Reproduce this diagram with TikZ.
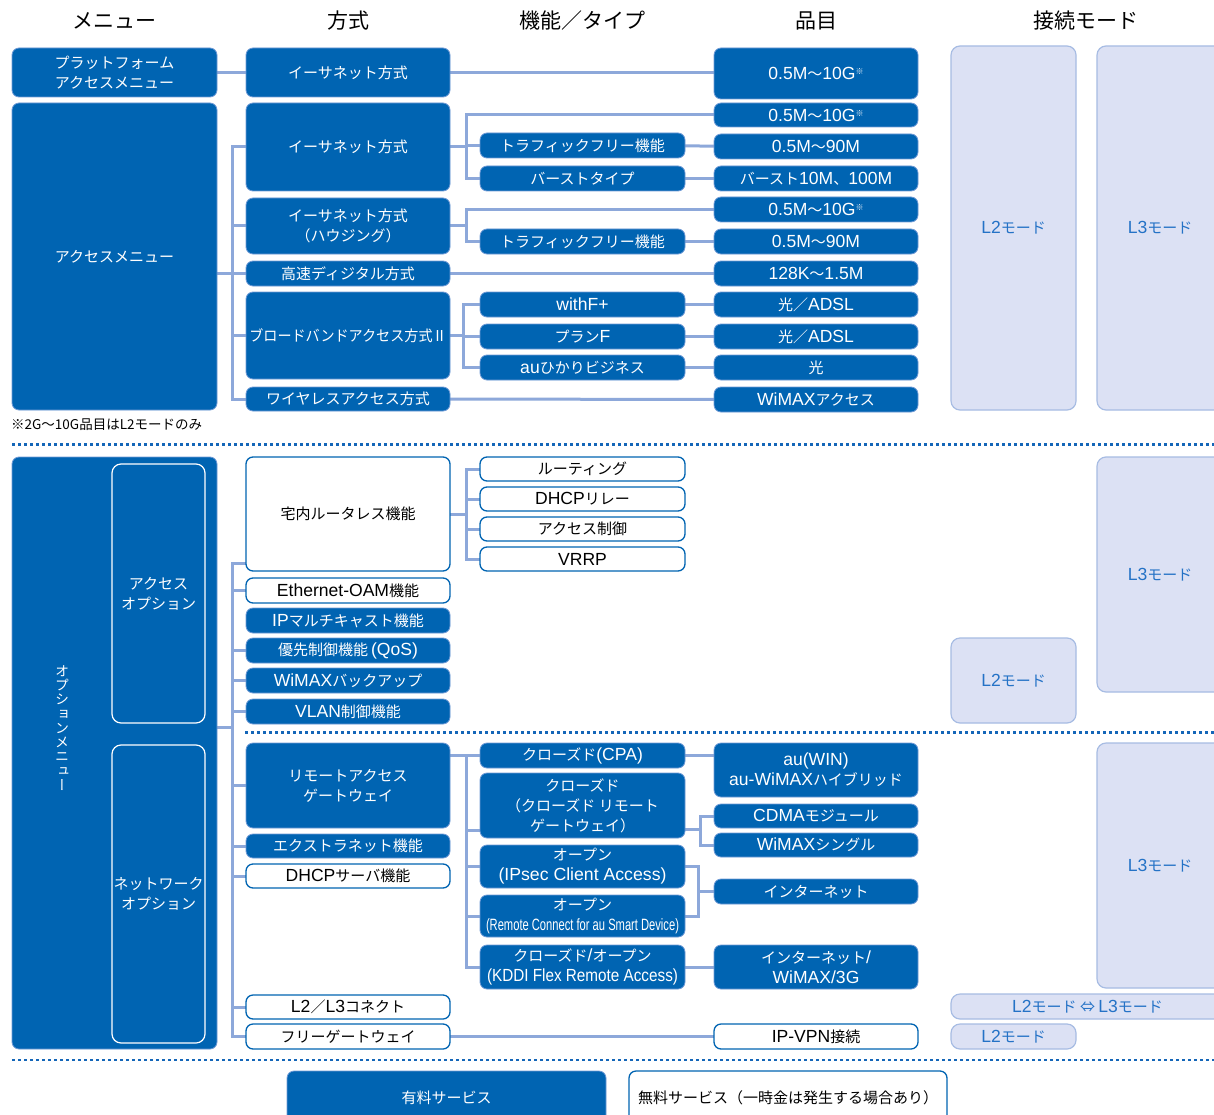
\documentclass[tikz,border=0pt]{standalone}
\usepackage{fontspec}
\usepackage{graphicx}
\setmainfont{Noto Sans CJK JP}
\newfontfamily\jpv[RawFeature=+vert]{Noto Sans CJK JP}
\newfontfamily\latfont[Scale=1.17]{Liberation Sans}
\newcommand\ltn[1]{{\latfont #1}}
\usetikzlibrary{calc}
\definecolor{mblue}{HTML}{0064B2}
\definecolor{medge}{HTML}{6F9AD6}
\definecolor{conn}{HTML}{8DA8DA}
\definecolor{lav}{HTML}{DCE1F4}
\definecolor{lavedge}{HTML}{A7BCE3}
\definecolor{modetext}{HTML}{2472C6}
\definecolor{dotc}{HTML}{1466B8}
\pgfdeclarelayer{bg}
\pgfsetlayers{bg,main}
\newcommand\bx[7]{\node[#1, minimum width={#5-#3}, minimum height={#6-#4}] (#2) at ({(#3+#5)/2},{(#4+#6)/2}) {#7};}
\newcommand\kome{\raisebox{5pt}{\fontsize{8}{8}\selectfont ※}}
\tikzset{
  boxbase/.style={rounded corners=7pt, align=center, inner sep=0pt, font=\fontsize{15}{20}\selectfont},
  bl/.style={boxbase, fill=mblue, draw=medge, line width=0.8pt, text=white},
  wh/.style={boxbase, fill=white, draw=mblue, line width=1.3pt, text=black},
  inner/.style={boxbase, rounded corners=9pt, fill=mblue, draw=white, line width=1.2pt, text=white},
  md/.style={boxbase, rounded corners=9pt, fill=lav, draw=lavedge, line width=1.2pt, text=modetext},
  cn/.style={draw=conn, line width=3pt, line cap=rect},
  hdr/.style={font=\fontsize{21}{24}\selectfont, text=black, inner sep=0pt},
  dotline/.style={draw=dotc, line width=3pt, dash pattern=on 3pt off 3pt},
}
\begin{document}
\begin{tikzpicture}[x=1pt,y=-1pt]
\useasboundingbox (0,0) rectangle (1214,1115);
\clip (0,0) rectangle (1214,1115);
% headers
\node[hdr] (h1) at (114,21) {メニュー};
\node[hdr] (h2) at (348,21) {方式};
\node[hdr] (h3) at (582,21) {機能／タイプ};
\node[hdr] (h4) at (816,21) {品目};
\node[hdr] (h5) at (1086,21) {接続モード};
% top section
\bx{bl}{plat}{12}{48}{217}{97}{プラットフォーム\\アクセスメニュー}
\bx{bl}{eth1}{246}{48}{450}{97}{イーサネット方式}
\bx{bl}{q1}{714}{48}{918}{99}{\ltn{0.5M}～\ltn{10G}\kome}
\bx{bl}{acc}{12}{103}{217}{410}{アクセスメニュー}
\bx{bl}{eth2}{246}{103}{450}{191}{イーサネット方式}
\bx{bl}{hous}{246}{198}{450}{254}{イーサネット方式\\（ハウジング）}
\bx{bl}{hs}{246}{261}{450}{286}{高速ディジタル方式}
\bx{bl}{bb}{246}{292}{450}{379}{\scalebox{0.94}[1]{ブロードバンドアクセス方式Ⅱ}}
\bx{bl}{wl}{246}{387}{450}{411}{ワイヤレスアクセス方式}
\bx{bl}{tf1}{480}{133}{685}{158}{トラフィックフリー機能}
\bx{bl}{bt}{480}{166}{685}{191}{バーストタイプ}
\bx{bl}{tf2}{480}{229}{685}{254}{トラフィックフリー機能}
\bx{bl}{wf}{480}{292}{685}{317}{\ltn{withF+}}
\bx{bl}{pf}{480}{324}{685}{349}{プラン\ltn{F}}
\bx{bl}{au}{480}{355}{685}{380}{\ltn{au}ひかりビジネス}
\bx{bl}{q2}{714}{103}{918}{127}{\ltn{0.5M}～\ltn{10G}\kome}
\bx{bl}{q3}{714}{134}{918}{159}{\ltn{0.5M}～\ltn{90M}}
\bx{bl}{q4}{714}{166}{918}{191}{バースト\ltn{10M}、\ltn{100M}}
\bx{bl}{q5}{714}{197}{918}{222}{\ltn{0.5M}～\ltn{10G}\kome}
\bx{bl}{q6}{714}{229}{918}{254}{\ltn{0.5M}～\ltn{90M}}
\bx{bl}{q7}{714}{261}{918}{286}{\ltn{128K}～\ltn{1.5M}}
\bx{bl}{q8}{714}{292}{918}{317}{光／\ltn{ADSL}}
\bx{bl}{q9}{714}{324}{918}{349}{光／\ltn{ADSL}}
\bx{bl}{q10}{714}{355}{918}{380}{光}
\bx{bl}{q11}{714}{387}{918}{412}{\ltn{WiMAX}アクセス}
\bx{md}{m1}{951}{46}{1076}{410}{\ltn{L2}モード}
\bx{md}{m2}{1097}{46}{1223}{410}{\ltn{L3}モード}
\node[anchor=west, inner sep=0pt, font=\fontsize{13.5}{16}\selectfont] (fn) at (11,425) {※2G～10G品目はL2モードのみ};
% option section
\bx{bl}{om}{12}{457}{217}{1049}{}
\node[font=\jpv\fontsize{14}{14.3}\selectfont, text=white, align=center, inner sep=0pt] (ovt) at (62,728) {オ\\プ\\シ\\ョ\\ン\\メ\\ニ\\ュ\\ー};
\bx{inner}{ao}{112}{464}{205}{723}{アクセス\\オプション}
\bx{inner}{no}{112}{745}{205}{1043}{ネットワーク\\オプション}
\bx{wh}{tak}{246}{457}{450}{571}{宅内ルータレス機能}
\bx{wh}{eoam}{246}{578}{450}{603}{\ltn{Ethernet-OAM}機能}
\bx{bl}{ipm}{246}{608}{450}{633}{\ltn{IP}マルチキャスト機能}
\bx{bl}{qos}{246}{638}{450}{663}{優先制御機能\ltn{\,(QoS)}}
\bx{bl}{wbk}{246}{668}{450}{693}{\ltn{WiMAX}バックアップ}
\bx{bl}{vlan}{246}{699}{450}{724}{\ltn{VLAN}制御機能}
\bx{bl}{rag}{246}{743}{450}{828}{リモートアクセス\\ゲートウェイ}
\bx{bl}{ext}{246}{834}{450}{858}{エクストラネット機能}
\bx{wh}{dhcp}{246}{864}{450}{888}{\ltn{DHCP}サーバ機能}
\bx{wh}{l23}{246}{995}{450}{1019}{\ltn{L2}／\ltn{L3}コネクト}
\bx{wh}{fg}{246}{1024}{450}{1049}{フリーゲートウェイ}
\bx{wh}{rt}{480}{457}{685}{481}{ルーティング}
\bx{wh}{dr}{480}{487}{685}{511}{\ltn{DHCP}リレー}
\bx{wh}{ac}{480}{517}{685}{541}{アクセス制御}
\bx{wh}{vr}{480}{547}{685}{571}{\ltn{VRRP}}
\bx{bl}{cpa}{480}{743}{685}{768}{クローズド\ltn{(CPA)}}
\bx{bl}{cl}{480}{773}{685}{838}{\fontsize{15}{19}\selectfont クローズド\\（クローズド リモート\\ゲートウェイ）}
\bx{bl}{ip}{480}{845}{685}{888}{オープン\\\resizebox{168pt}{\height}{\ltn{(IPsec Client Access)}}}
\bx{bl}{rm}{480}{895}{685}{937}{オープン\\\resizebox{193pt}{\height}{\fontsize{14}{16}\selectfont\ltn{(Remote Connect for au Smart Device)}}}
\bx{bl}{kd}{480}{945}{685}{989}{クローズド\ltn{/}オープン\\\resizebox{191pt}{\height}{\ltn{(KDDI Flex Remote Access)}}}
\bx{bl}{auw}{714}{743}{918}{797}{\ltn{au(WIN)}\\\ltn{au-WiMAX}ハイブリッド}
\bx{bl}{cdma}{714}{804}{918}{828}{\ltn{CDMA}モジュール}
\bx{bl}{wms}{714}{833}{918}{857}{\ltn{WiMAX}シングル}
\bx{bl}{inet}{714}{879}{918}{904}{インターネット}
\bx{bl}{ikw}{714}{945}{918}{989}{インターネット\ltn{/}\\\ltn{WiMAX/3G}}
\bx{wh}{ipv}{714}{1024}{918}{1049}{\ltn{IP-VPN}接続}
\bx{md}{m3}{1097}{457}{1223}{692}{\ltn{L3}モード}
\bx{md}{m4}{951}{638}{1076}{723}{\ltn{L2}モード}
\bx{md}{m5}{1097}{743}{1223}{988}{\ltn{L3}モード}
\bx{md}{m6}{951}{994}{1224}{1019}{\ltn{L2}モード ⇔ \ltn{L3}モード}
\bx{md}{m7}{951}{1024}{1076}{1049}{\ltn{L2}モード}
% legend
\bx{bl}{pay}{287}{1071}{606}{1125}{有料サービス}
\bx{wh}{free}{629}{1071}{947}{1125}{無料サービス（一時金は発生する場合あり）}
% dotted separators
\draw[dotline] (12,444) -- (1214,444);
\draw[dotline] (245,732) -- (1214,732);
\draw[dotline, line width=2.5pt] (12,1060) -- (1214,1060);
% connectors
\begin{pgfonlayer}{bg}
\fill[white] (0,0) rectangle (1214,1115);
\draw[cn] (plat) -- (eth1);
\draw[cn] (eth1) -- (eth1 -| q1.west);
\coordinate (ab) at (232,0);
\draw[cn] (ab |- eth2.west) -- (ab |- wl.west);
\foreach \n in {eth2,hous,bb,wl} \draw[cn] (ab |- \n.west) -- (\n.west);
\draw[cn] (acc.east |- hs.west) -- (hs.west);
\coordinate (b1) at (466,0);
\draw[cn] (eth2.east) -- (b1 |- eth2.east);
\draw[cn] (b1 |- q2.west) -- (b1 |- bt.west);
\draw[cn] (b1 |- q2.west) -- (q2.west);
\draw[cn] (b1 |- tf1.west) -- (tf1.west);
\draw[cn] (b1 |- bt.west) -- (bt.west);
\draw[cn] (tf1) -- (q3);
\draw[cn] (bt) -- (q4);
\draw[cn] (hous.east) -- (b1 |- hous.east);
\draw[cn] (b1 |- q5.west) -- (b1 |- tf2.west);
\draw[cn] (b1 |- q5.west) -- (q5.west);
\draw[cn] (b1 |- tf2.west) -- (tf2.west);
\draw[cn] (tf2) -- (q6);
\draw[cn] (hs) -- (q7);
\coordinate (b2) at (463,0);
\draw[cn] (bb.east) -- (b2 |- bb.east);
\draw[cn] (b2 |- wf.west) -- (b2 |- au.west);
\foreach \n in {wf,pf,au} \draw[cn] (b2 |- \n.west) -- (\n.west);
\draw[cn] (wf) -- (q8);
\draw[cn] (pf) -- (q9);
\draw[cn] (au) -- (q10);
\draw[cn] (wl) -- (q11);
% option bus
\coordinate (ob) at (232,0);
\coordinate (takc) at ([yshift=8pt]tak.south west);
\draw[cn] (ob |- takc) -- (ob |- fg.west);
\draw[cn] (ob |- takc) -- (takc);
\foreach \n in {eoam,qos,wbk,vlan,rag,ext,dhcp,l23,fg} \draw[cn] (ob |- \n.west) -- (\n.west);
\coordinate (omc) at (217,727);
\draw[cn] (omc) -- (ob |- omc);
\draw[cn] (tak.east) -- (b1 |- tak.east);
\draw[cn] (b1 |- rt.west) -- (b1 |- vr.west);
\foreach \n in {rt,dr,ac,vr} \draw[cn] (b1 |- \n.west) -- (\n.west);
% network
\draw[cn] (rag.east |- cpa.west) -- (cpa.west);
\draw[cn] (b1 |- cpa.west) -- (b1 |- kd.west);
\coordinate (clc) at ([yshift=8pt]cl.south west);
\draw[cn] (b1 |- clc) -- (clc);
\foreach \n in {ip,rm,kd} \draw[cn] (b1 |- \n.west) -- (\n.west);
\draw[cn] (cpa.east) -- (cpa.east -| auw.west);
\coordinate (b3) at (700,0);
\coordinate (clr) at ([yshift=9pt]cl.south east);
\draw[cn] (clr) -- (b3 |- clr);
\draw[cn] (b3 |- cdma.west) -- (b3 |- wms.west);
\draw[cn] (b3 |- cdma.west) -- (cdma.west);
\draw[cn] (b3 |- wms.west) -- (wms.west);
\coordinate (b4) at (698,0);
\draw[cn] (ip.east) -- (b4 |- ip.east) -- (b4 |- rm.east) -- (rm.east);
\draw[cn] (b4 |- inet.west) -- (inet.west);
\draw[cn] (kd) -- (ikw);
\draw[cn] (fg) -- (ipv);
\end{pgfonlayer}
\end{tikzpicture}
\end{document}
